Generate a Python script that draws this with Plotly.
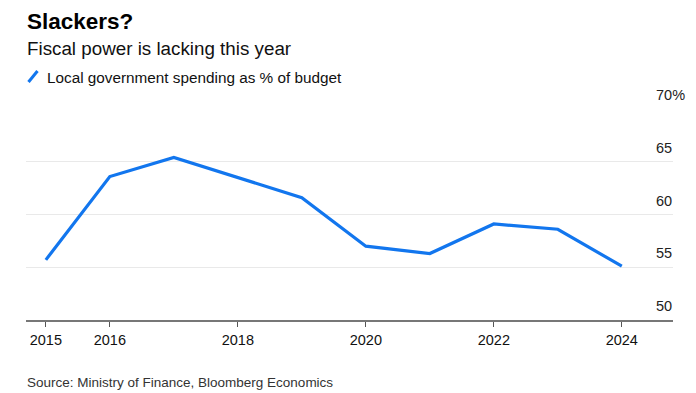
import plotly.graph_objects as go

years = [2015, 2016, 2017, 2018, 2019, 2020, 2021, 2022, 2023, 2024]
spending_pct = [55.7, 63.6, 65.4, 63.5, 61.6, 57.0, 56.3, 59.1, 58.6, 55.1]
x_tick_vals = [2015, 2016, 2018, 2020, 2022, 2024]
x_tick_text = ["2015", "2016", "2018", "2020", "2022", "2024"]
y_tick_vals = [50, 55, 60, 65, 70]
y_tick_text = ["50", "55", "60", "65", "70%"]

title = "Slackers?"
subtitle = "Fiscal power is lacking this year"
series_name = "Local government spending as % of budget"
source = "Source: Ministry of Finance, Bloomberg Economics"

# page body has an 8px default margin; lay the figure out in screen pixels minus that offset
OFF = 8
W, H = 696 - OFF, 393 - OFF
PX0, PX1, PY0, PY1 = 26, 673, 109, 320  # plot area in screen pixels
L, R, T, B = PX0 - OFF, W - (PX1 - OFF), PY0 - OFF, H - (PY1 - OFF)
PW = W - L - R
PH = H - T - B

def fx(px):
    return (px - PX0) / PW

def fy(py):
    return (PY1 - py) / PH

FONT = "Liberation Sans, Arial, Helvetica, sans-serif"
BLUE = "#1276ee"

fig = go.Figure()
fig.add_trace(go.Scatter(x=years, y=spending_pct, mode="lines",
                         line=dict(color=BLUE, width=3.2),
                         name=series_name, showlegend=False))

anns = []
anns.append(dict(text="<b>" + title + "</b>", x=fx(25), y=fy(21.5), xref="paper", yref="paper",
                 xanchor="left", yanchor="middle", showarrow=False,
                 font=dict(family=FONT, size=22.5, color="#000")))
anns.append(dict(text=subtitle, x=fx(25), y=fy(48.5), xref="paper", yref="paper",
                 xanchor="left", yanchor="middle", showarrow=False,
                 font=dict(family=FONT, size=18.8, color="#111")))
anns.append(dict(text=series_name, x=fx(45), y=fy(77), xref="paper", yref="paper",
                 xanchor="left", yanchor="middle", showarrow=False,
                 font=dict(family=FONT, size=15.3, color="#111")))
anns.append(dict(text=source, x=fx(25), y=fy(382), xref="paper", yref="paper",
                 xanchor="left", yanchor="middle", showarrow=False,
                 font=dict(family=FONT, size=13.5, color="#333")))
for v, t in zip(y_tick_vals, y_tick_text):
    anns.append(dict(text=t, x=fx(654), y=v, xref="paper", yref="y",
                     xanchor="left", yanchor="middle", yshift=14, showarrow=False,
                     font=dict(family=FONT, size=14.5, color="#222")))

shapes = [dict(type="line", xref="paper", yref="paper",
               x0=fx(28.5), y0=fy(82), x1=fx(37.5), y1=fy(71),
               line=dict(color=BLUE, width=3))]

fig.update_layout(
    width=W, height=H,
    margin=dict(l=L, r=R, t=T, b=B, pad=0),
    paper_bgcolor="white", plot_bgcolor="white",
    annotations=anns, shapes=shapes,
    showlegend=False,
    xaxis=dict(range=[2014.69, 2024.8], tickvals=x_tick_vals, ticktext=x_tick_text,
               showgrid=False, zeroline=False, showline=True, linecolor="#777",
               linewidth=2, ticks="outside", ticklen=5, tickwidth=1, tickcolor="#555",
               tickfont=dict(family=FONT, size=14.5, color="#111"), ticklabelstandoff=1),
    yaxis=dict(range=[50, 70], tickvals=y_tick_vals, showticklabels=False,
               showgrid=True, gridcolor="#e9e9e9", gridwidth=1, zeroline=False,
               showline=False, ticks=""),
)

fig.write_html("out.html")
